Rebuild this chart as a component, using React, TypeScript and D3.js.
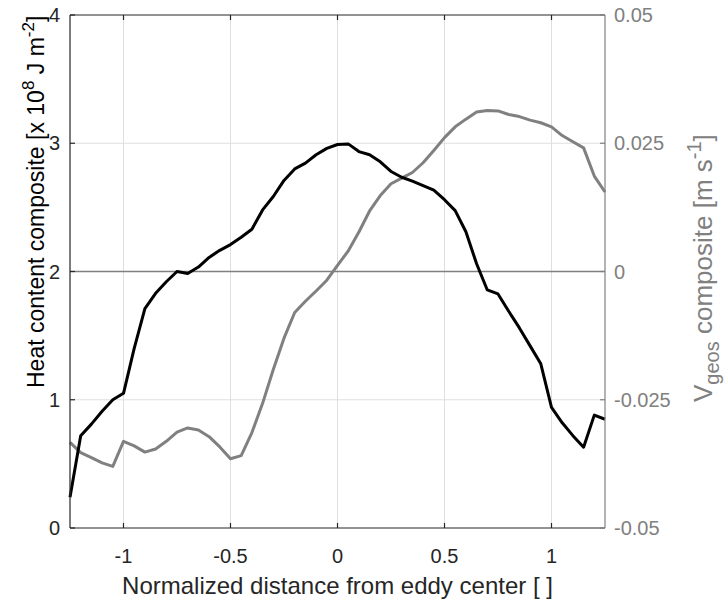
import React from "react";
import * as d3 from "d3";

const xValues = [
  -1.25, -1.2, -1.15, -1.1, -1.05, -1.0, -0.95, -0.9, -0.85, -0.8, -0.75, -0.7, -0.65, -0.6, -0.55, -0.5, -0.45,
  -0.4, -0.35, -0.3, -0.25, -0.2, -0.15, -0.1, -0.05, 0.0, 0.05, 0.1, 0.15, 0.2, 0.25, 0.3, 0.35, 0.4, 0.45, 0.5,
  0.55, 0.6, 0.65, 0.7, 0.75, 0.8, 0.85, 0.9, 0.95, 1.0, 1.05, 1.1, 1.15, 1.2, 1.25,
];

const heatContent = [
  0.24, 0.72, 0.81, 0.91, 1.0, 1.05, 1.4, 1.71, 1.83, 1.92, 2.0, 1.985, 2.035, 2.11, 2.165, 2.21, 2.267,
  2.33, 2.48, 2.585, 2.71, 2.8, 2.845, 2.91, 2.96, 2.99, 2.995, 2.935, 2.91, 2.855, 2.78, 2.735, 2.705, 2.67, 2.635, 2.56,
  2.475, 2.31, 2.06, 1.856, 1.825, 1.69, 1.56, 1.42, 1.28, 0.94, 0.82, 0.72, 0.63, 0.88, 0.848,
];

const vGeos = [
  -0.0333, -0.0353, -0.0363, -0.0373, -0.038, -0.0331, -0.034, -0.0352, -0.0346, -0.0331, -0.0313, -0.0305, -0.0309,
  -0.0322, -0.0342, -0.0365, -0.0359, -0.0314, -0.0257, -0.0191, -0.013, -0.008, -0.0058, -0.0038, -0.0017, 0.0012,
  0.004, 0.0077, 0.0118, 0.0148, 0.0171, 0.0182, 0.0193, 0.0212, 0.0236, 0.0261, 0.0282, 0.0297, 0.0311, 0.0314,
  0.0313, 0.0306, 0.0302, 0.0295, 0.029, 0.0282, 0.0265, 0.0253, 0.0241, 0.0186, 0.0155,
];

const xTicks = [-1, -0.5, 0, 0.5, 1];
const xTickLabels = ["-1", "-0.5", "0", "0.5", "1"];
const yLeftTicks = [0, 1, 2, 3, 4];
const yLeftTickLabels = ["0", "1", "2", "3", "4"];
const yRightTicks = [-0.05, -0.025, 0, 0.025, 0.05];
const yRightTickLabels = ["-0.05", "-0.025", "0", "0.025", "0.05"];

const W = 725;
const H = 603;
const M = { left: 70, right: 605, top: 15, bottom: 528 };
const FONT = "'Liberation Sans', Arial, Helvetica, sans-serif";
const DARK = "#262626";
const GRAY = "#808080";
const GRID = "#dfdfdf";

export default function App() {
  const x = d3.scaleLinear().domain([-1.25, 1.25]).range([M.left, M.right]);
  const yL = d3.scaleLinear().domain([0, 4]).range([M.bottom, M.top]);
  const yR = d3.scaleLinear().domain([-0.05, 0.05]).range([M.bottom, M.top]);

  const heatLine = d3
    .line<number>()
    .x((_, i) => x(xValues[i]))
    .y((d) => yL(d))(heatContent);
  const vLine = d3
    .line<number>()
    .x((_, i) => x(xValues[i]))
    .y((d) => yR(d))(vGeos);

  const tickLen = 5;

  return (
    <svg
      width={W}
      height={H}
      style={{ position: "absolute", left: 0, top: 0, background: "#fff" }}
      fontFamily={FONT}
    >
      <rect x={0} y={0} width={W} height={H} fill="#fff" />
      {/* grid */}
      {xTicks.map((t) => (
        <line key={"gx" + t} x1={x(t)} x2={x(t)} y1={M.top} y2={M.bottom} stroke={GRID} strokeWidth={1} />
      ))}
      {yLeftTicks
        .filter((t) => t !== 0 && t !== 4)
        .map((t) => (
          <line key={"gy" + t} x1={M.left} x2={M.right} y1={yL(t)} y2={yL(t)} stroke={GRID} strokeWidth={1} />
        ))}
      {/* zero line of right axis */}
      <line x1={M.left} x2={M.right} y1={yR(0)} y2={yR(0)} stroke={GRAY} strokeWidth={1.3} />

      {/* data lines */}
      <path d={vLine ?? ""} fill="none" stroke={GRAY} strokeWidth={3} strokeLinejoin="round" />
      <path d={heatLine ?? ""} fill="none" stroke="#000" strokeWidth={3} strokeLinejoin="round" />

      {/* frame */}
      <line x1={M.left} x2={M.right} y1={M.top} y2={M.top} stroke={DARK} strokeWidth={1.2} />
      <line x1={M.left} x2={M.right} y1={M.bottom} y2={M.bottom} stroke={DARK} strokeWidth={1.2} />
      <line x1={M.left} x2={M.left} y1={M.top} y2={M.bottom} stroke={DARK} strokeWidth={1.2} />
      <line x1={M.right} x2={M.right} y1={M.top} y2={M.bottom} stroke={GRAY} strokeWidth={1.2} />

      {/* x ticks */}
      {xTicks.map((t, i) => (
        <g key={"xt" + t}>
          <line x1={x(t)} x2={x(t)} y1={M.bottom} y2={M.bottom - tickLen} stroke={DARK} strokeWidth={1.2} />
          <line x1={x(t)} x2={x(t)} y1={M.top} y2={M.top + tickLen} stroke={DARK} strokeWidth={1.2} />
          <text x={x(t)} y={563} textAnchor="middle" fontSize={20} fill={DARK}>
            {xTickLabels[i]}
          </text>
        </g>
      ))}

      {/* left y ticks */}
      {yLeftTicks.map((t, i) => (
        <g key={"yl" + t}>
          <line x1={M.left} x2={M.left + tickLen} y1={yL(t)} y2={yL(t)} stroke={DARK} strokeWidth={1.2} />
          <text x={60} y={yL(t)} dy="0.36em" textAnchor="end" fontSize={20} fill={DARK}>
            {yLeftTickLabels[i]}
          </text>
        </g>
      ))}

      {/* right y ticks */}
      {yRightTicks.map((t, i) => (
        <g key={"yr" + t}>
          <line x1={M.right} x2={M.right - tickLen} y1={yR(t)} y2={yR(t)} stroke={GRAY} strokeWidth={1.2} />
          <text x={614} y={yR(t)} dy="0.36em" textAnchor="start" fontSize={20} fill={GRAY}>
            {yRightTickLabels[i]}
          </text>
        </g>
      ))}

      {/* x label */}
      <text x={(M.left + M.right) / 2} y={594} textAnchor="middle" fontSize={24} fill={DARK}>
        Normalized distance from eddy center [ ]
      </text>

      {/* left y label */}
      <text transform="translate(44,388) rotate(-90)" textAnchor="start" fontSize={23} fill="#000">
        Heat content composite [x 10
        <tspan dy={-10} fontSize={17}>8</tspan>
        <tspan dy={10}> J m</tspan>
        <tspan dy={-10} fontSize={17}>-2</tspan>
        <tspan dy={10}>]</tspan>
      </text>

      {/* right y label */}
      <text transform="translate(712,402) rotate(-90)" textAnchor="start" fontSize={26} fill={GRAY}>
        V
        <tspan dy={7} fontSize={20}>geos</tspan>
        <tspan dy={-7}> composite [m s</tspan>
        <tspan dy={-11} fontSize={20}>-1</tspan>
        <tspan dy={11}>]</tspan>
      </text>
    </svg>
  );
}
